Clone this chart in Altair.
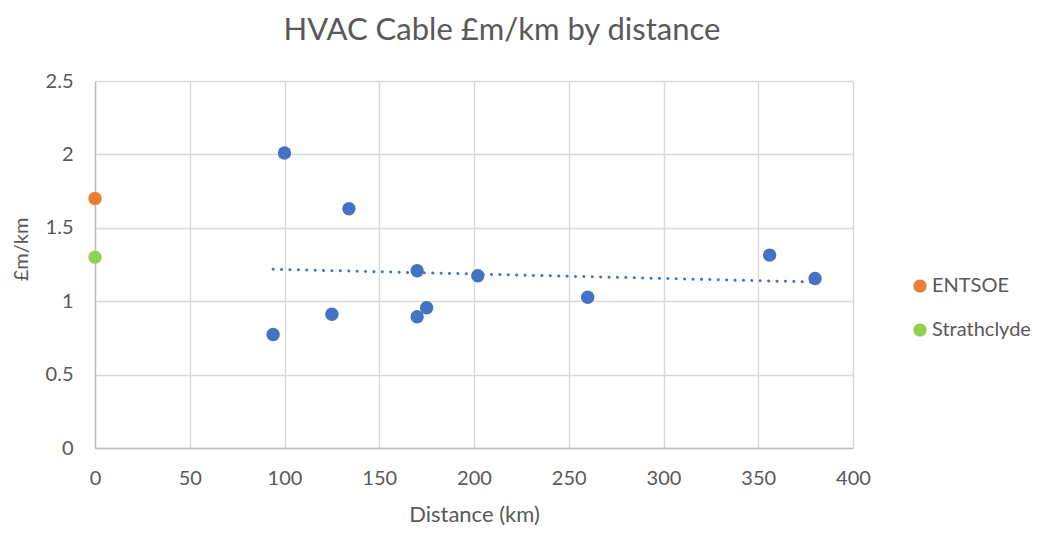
import altair as alt
import pandas as pd

# Main series (blue)
dist_km = [94, 100, 125, 134, 170, 170, 175, 202, 260, 356, 380]
cost_m_per_km = [0.773, 2.01, 0.911, 1.63, 1.207, 0.894, 0.955, 1.173, 1.027, 1.314, 1.155]

# Reference points
ref_names = ["ENTSOE", "Strathclyde"]
ref_dist = [0, 0]
ref_cost = [1.70, 1.30]
ref_colors = ["#ED7D31", "#92D050"]

x_ticks = [0, 50, 100, 150, 200, 250, 300, 350, 400]
y_ticks = [0, 0.5, 1, 1.5, 2, 2.5]

main_df = pd.DataFrame({"dist": dist_km, "cost": cost_m_per_km})
ref_df = pd.DataFrame({"dist": ref_dist, "cost": ref_cost, "series": ref_names})

FONT = "Lato"
GREY = "#595959"

x_enc = alt.X("dist:Q", title="Distance (km)",
              scale=alt.Scale(domain=[0, 400], nice=False),
              axis=alt.Axis(values=x_ticks, labelFlush=False,
                            titleY=73, titleBaseline="alphabetic"))
y_enc = alt.Y("cost:Q", title="£m/km",
              scale=alt.Scale(domain=[0, 2.5], nice=False),
              axis=alt.Axis(values=y_ticks, format="~g", labelFlush=False,
                            titleX=-68, titleY=168, titleBaseline="alphabetic",
                            titleAngle=270, titleFontSize=20))

trend = alt.Chart(main_df).transform_regression("dist", "cost").mark_line(
    color="#4472C4", strokeWidth=3, strokeDash=[0.1, 8.3], strokeCap="round"
).encode(x=x_enc, y=y_enc)

main_pts = alt.Chart(main_df).mark_circle(
    size=180, opacity=1, color="#4472C4"
).encode(x=x_enc, y=y_enc)

ref_pts = alt.Chart(ref_df).mark_circle(size=180, opacity=1).encode(
    x=x_enc, y=y_enc,
    color=alt.Color("series:N",
                    scale=alt.Scale(domain=ref_names, range=ref_colors),
                    legend=alt.Legend(title=None, orient="none",
                                      legendX=815, legendY=195,
                                      symbolSize=175, symbolType="circle",
                                      labelFontSize=20, labelFont=FONT,
                                      labelColor=GREY, rowPadding=24,
                                      labelOffset=2)),
)

chart = alt.layer(trend, main_pts, ref_pts).properties(
    width=758, height=367,
    autosize=alt.AutoSizeParams(type="none"),
    padding={"left": 87, "top": 73, "right": 183, "bottom": 78},
    title=alt.Title("HVAC Cable £m/km by distance", fontSize=31, font=FONT,
                    fontWeight="normal", color=GREY, anchor="middle",
                    dx=28, offset=24),
).configure_view(stroke=None).configure_axis(
    labelFont=FONT, titleFont=FONT, labelFontSize=20, titleFontSize=22,
    labelColor=GREY, titleColor=GREY, titleFontWeight="normal",
    gridColor="#D9D9D9", gridWidth=1.4, domainColor="#BFBFBF", domainWidth=1.4,
    ticks=False,
).configure_axisY(labelPadding=22).configure_axisX(labelPadding=20)

chart.save("out.html", embed_options={"renderer": "svg", "actions": False})
